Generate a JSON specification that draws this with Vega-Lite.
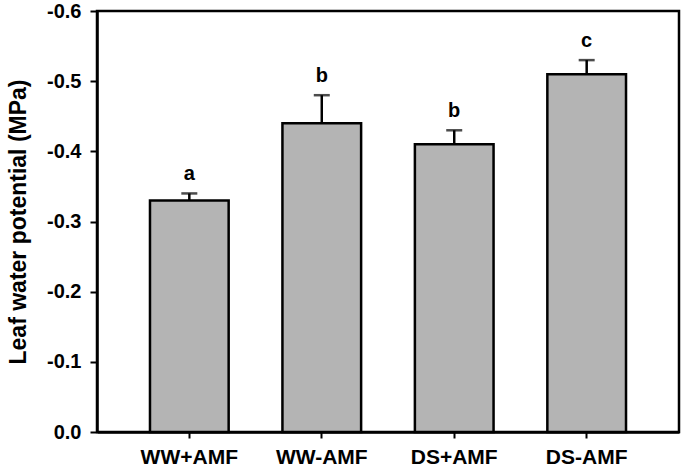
{
  "$schema": "https://vega.github.io/schema/vega-lite/v6.json",
  "width": 582,
  "height": 421,
  "autosize": {"type": "none"},
  "padding": {"left": 97, "top": 11, "right": 6, "bottom": 37},
  "background": "white",
  "config": {
    "view": {"stroke": "black", "strokeWidth": 2.5},
    "font": "Liberation Sans",
    "axis": {
      "labelFont": "Liberation Sans",
      "titleFont": "Liberation Sans",
      "labelFontWeight": "bold",
      "titleFontWeight": "bold",
      "labelColor": "black",
      "titleColor": "black",
      "domainColor": "black",
      "tickColor": "black",
      "domainWidth": 2.5,
      "tickWidth": 2,
      "grid": false
    }
  },
  "data": {
    "values": [
      {"group": "WW+AMF", "value": -0.33, "err": -0.34, "letter": "a"},
      {"group": "WW-AMF", "value": -0.44, "err": -0.48, "letter": "b"},
      {"group": "DS+AMF", "value": -0.41, "err": -0.43, "letter": "b"},
      {"group": "DS-AMF", "value": -0.51, "err": -0.53, "letter": "c"}
    ]
  },
  "encoding": {
    "x": {
      "field": "group",
      "type": "nominal",
      "sort": null,
      "scale": {"paddingInner": 0.406, "paddingOuter": 0.4},
      "axis": {"title": null, "labelAngle": 0, "tickSize": 6, "labelPadding": 8, "labelFontSize": 21}
    }
  },
  "layer": [
    {
      "mark": {"type": "rule", "stroke": "black", "strokeWidth": 2.5},
      "encoding": {
        "y": {"field": "value", "type": "quantitative"},
        "y2": {"field": "err"}
      }
    },
    {
      "mark": {"type": "tick", "color": "black", "size": 16, "thickness": 2.5, "orient": "horizontal"},
      "encoding": {
        "y": {"field": "err", "type": "quantitative"}
      }
    },
    {
      "mark": {"type": "bar", "fill": "#b4b4b4", "stroke": "black", "strokeWidth": 2.5},
      "encoding": {
        "y": {
          "field": "value",
          "type": "quantitative",
          "scale": {"domain": [0, -0.6], "nice": false, "zero": false},
          "axis": {
            "title": "Leaf water potential (MPa)",
            "values": [0, -0.1, -0.2, -0.3, -0.4, -0.5, -0.6],
            "labelExpr": "replace(format(datum.value, '.1f'), '\u2212', '-')",
            "tickSize": 7,
            "labelPadding": 9,
            "labelFontSize": 20,
            "titleFontSize": 23,
            "titlePadding": 16
          }
        },
        "y2": {"datum": 0}
      }
    },
    {
      "mark": {"type": "text", "fontWeight": "bold", "fontSize": 20, "baseline": "bottom", "dy": -9, "color": "black"},
      "encoding": {
        "y": {"field": "err", "type": "quantitative"},
        "text": {"field": "letter"}
      }
    }
  ],
  "resolve": {"scale": {"y": "shared"}}
}
